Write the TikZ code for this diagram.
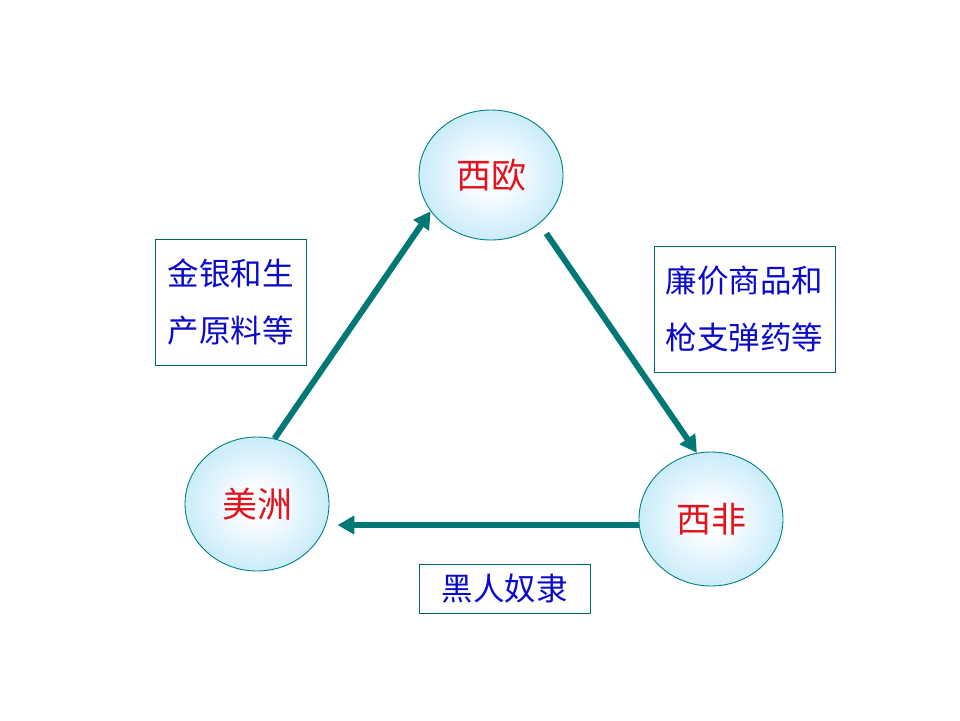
\documentclass[tikz,border=0pt]{standalone}
\usepackage{fontspec}
\newfontfamily\cjk{Noto Sans CJK SC}
\usetikzlibrary{shapes.geometric,arrows.meta}
\definecolor{tealarr}{RGB}{0,120,118}
\definecolor{tealline}{RGB}{0,128,128}
\definecolor{ballblue}{RGB}{192,232,250}
\definecolor{txtblue}{RGB}{10,10,200}
\definecolor{txtred}{RGB}{225,20,30}
\pgfdeclareradialshading{ball}{\pgfpoint{0bp}{0bp}}{color(0bp)=(white); color(5bp)=(white); color(24bp)=(ballblue!80); color(46bp)=(ballblue); color(60bp)=(ballblue)}
\tikzset{
  place/.style={ellipse, draw=tealline, line width=0.9pt, shading=ball, minimum width=144pt, minimum height=130pt, inner sep=0pt, text=txtred, font=\cjk\fontsize{35}{35}\selectfont},
  goodsbox/.style={draw=tealline!80!black, line width=0.9pt, fill=white, inner sep=0pt, text=txtblue, align=center, font=\cjk\fontsize{31.5}{57}\selectfont},
  flow/.style={draw=tealarr, line width=6pt, -{Triangle[length=17pt,width=18pt]}}
}
\begin{document}
\begin{tikzpicture}[x=1pt,y=-1pt]
\useasboundingbox[fill=white] (0,0) rectangle (960,720);
\node[place] (xo) at (491,175) {西欧};
\node[place, minimum height=134pt] (mz) at (257,504) {美洲};
\node[place, minimum height=134pt] (xf) at (711,519) {西非};
\node[goodsbox, minimum width=151pt, minimum height=126pt] (b1) at (230.5,302) {金银和生\\产原料等};
\node[goodsbox, minimum width=181pt, minimum height=126pt] (b2) at (744.5,309) {廉价商品和\\枪支弹药等};
\node[goodsbox, minimum width=171pt, minimum height=49pt] (b3) at (504.5,588.5) {黑人奴隶};
\draw[flow] (mz.75) -- (xo.211);
\draw[flow, shorten <=12pt] (xo.-45) -- (xf.102);
\draw[flow] ([yshift=-6pt]xf.west) -- ([xshift=8pt,yshift=-21pt]mz.east);
\end{tikzpicture}
\end{document}
